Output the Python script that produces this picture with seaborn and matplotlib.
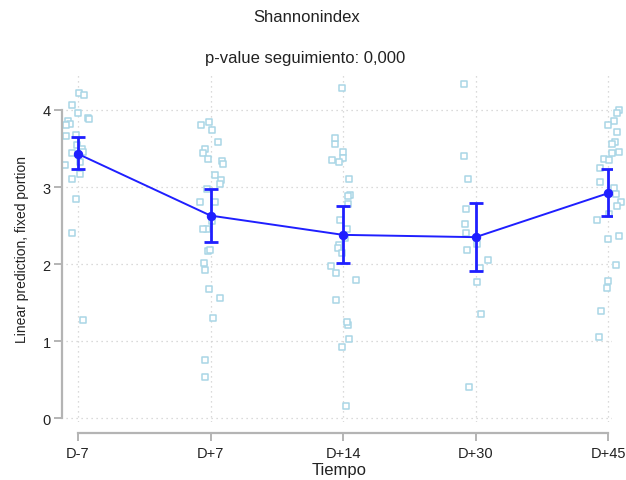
import numpy as np
import pandas as pd
import seaborn as sns
import matplotlib
matplotlib.use("Agg")
import matplotlib.pyplot as plt
from matplotlib import font_manager

# ---- data ----
categories = ["D-7", "D+7", "D+14", "D+30", "D+45"]

obs_dm7 = [4.22, 4.20, 4.06, 3.96, 3.90, 3.88, 3.86, 3.82, 3.81, 3.67, 3.66, 3.55,
           3.49, 3.44, 3.46, 3.32, 3.29, 3.17, 3.10, 2.85, 2.40, 1.27]
obs_dp7 = [3.84, 3.81, 3.74, 3.58, 3.50, 3.44, 3.37, 3.34, 3.30, 3.16, 3.09, 3.04,
           2.97, 2.81, 2.80, 2.56, 2.46, 2.46, 2.17, 2.18, 2.01, 1.93, 1.68, 1.56,
           1.30, 0.75, 0.54]
obs_dp14 = [4.28, 3.56, 3.64, 3.46, 3.35, 3.38, 3.32, 3.10, 2.90, 2.89, 2.78, 2.57,
            2.46, 2.25, 2.34, 2.21, 2.14, 1.98, 1.89, 1.80, 1.54, 1.21, 1.25, 1.03,
            0.93, 0.16]
obs_dp30 = [4.34, 3.40, 3.11, 2.71, 2.52, 2.40, 2.26, 2.19, 2.05, 1.95, 1.77, 1.35, 0.40]
obs_dp45 = [4.00, 3.96, 3.86, 3.81, 3.71, 3.59, 3.56, 3.45, 3.44, 3.37, 3.35, 3.25,
            3.07, 2.99, 2.91, 2.80, 2.75, 2.65, 2.57, 2.32, 2.36, 1.99, 1.78, 1.69,
            1.39, 1.05]

pred_mean = [3.43, 2.63, 2.38, 2.35, 2.92]
ci_low = [3.24, 2.29, 2.01, 1.91, 2.62]
ci_high = [3.65, 2.97, 2.75, 2.79, 3.23]

title = "Shannonindex"
subtitle = "p-value seguimiento: 0,000"
xlabel = "Tiempo"
ylabel = "Linear prediction, fixed portion"
yticks = [0, 1, 2, 3, 4]

# ---- build long table ----
obs_lists = [obs_dm7, obs_dp7, obs_dp14, obs_dp30, obs_dp45]
df = pd.DataFrame({
    "Tiempo": [c for c, v in zip(categories, obs_lists) for _ in v],
    "value": [x for v in obs_lists for x in v],
})

sns.set_theme(style="white")
avail = {f.name for f in font_manager.fontManager.ttflist}
fam = ["Liberation Sans Narrow"] if "Liberation Sans Narrow" in avail else ["Liberation Sans"]
plt.rcParams["font.family"] = fam + ["DejaVu Sans"]

W, H = 626, 481
fig = plt.figure(figsize=(W / 100, H / 100), dpi=100)
ax = fig.add_axes([66 / W, 1 - 423 / H, 546 / W, 347 / H])

np.random.seed(3)
sns.stripplot(data=df, x="Tiempo", y="value", order=categories, ax=ax,
              jitter=0.1, marker="s", size=4.0, color="white",
              edgecolor="#a9d6e6", linewidth=1.1, zorder=2, clip_on=False)

blue = "#1f1fff"
xpos = np.arange(len(categories))
sns.lineplot(x=xpos, y=pred_mean, ax=ax, color=blue, linewidth=1.4,
             marker="o", markersize=6, markeredgecolor=blue, zorder=4)
ax.errorbar(xpos, pred_mean,
            yerr=[np.array(pred_mean) - np.array(ci_low), np.array(ci_high) - np.array(pred_mean)],
            fmt="none", ecolor=blue, elinewidth=2, capsize=5, capthick=2, zorder=5)

ax.set_xlim(-0.0906, 4.03)
ax.set_ylim(-0.048, 4.454)
ax.set_xticks(xpos)
ax.set_xticklabels(categories)
ax.set_yticks(yticks)
ax.set_yticklabels([str(t) for t in yticks])

grid_kw = dict(color="#cfcfcf", linewidth=0.9, linestyle=(0, (1, 3)))
ax.grid(True, axis="both", **grid_kw)
ax.set_axisbelow(True)

for s in ["top", "right"]:
    ax.spines[s].set_visible(False)
ax.spines["left"].set_position(("outward", 3))
ax.spines["bottom"].set_position(("outward", 8))
ax.spines["left"].set_bounds(0, 4)
ax.spines["bottom"].set_bounds(0, 4)
for s in ["left", "bottom"]:
    ax.spines[s].set_color("#b4b4b4")
    ax.spines[s].set_linewidth(1.6)

ax.tick_params(axis="both", which="major", direction="out", length=6, width=1.4,
               color="#b4b4b4", labelcolor="#222222", labelsize=10.5, pad=2,
               bottom=True, left=True)
ax.tick_params(axis="x", pad=3)

ax.set_xlabel(xlabel, fontsize=12, color="#222222", labelpad=2)
ax.set_ylabel(ylabel, fontsize=10, color="#222222", labelpad=10)

fig.text(307 / W, 1 - 18 / H, title, ha="center", va="center", fontsize=12, color="#222222")
fig.text(305 / W, 1 - 58 / H, subtitle, ha="center", va="center", fontsize=12, color="#222222")

fig.savefig("out.png", dpi=100, facecolor="white")
